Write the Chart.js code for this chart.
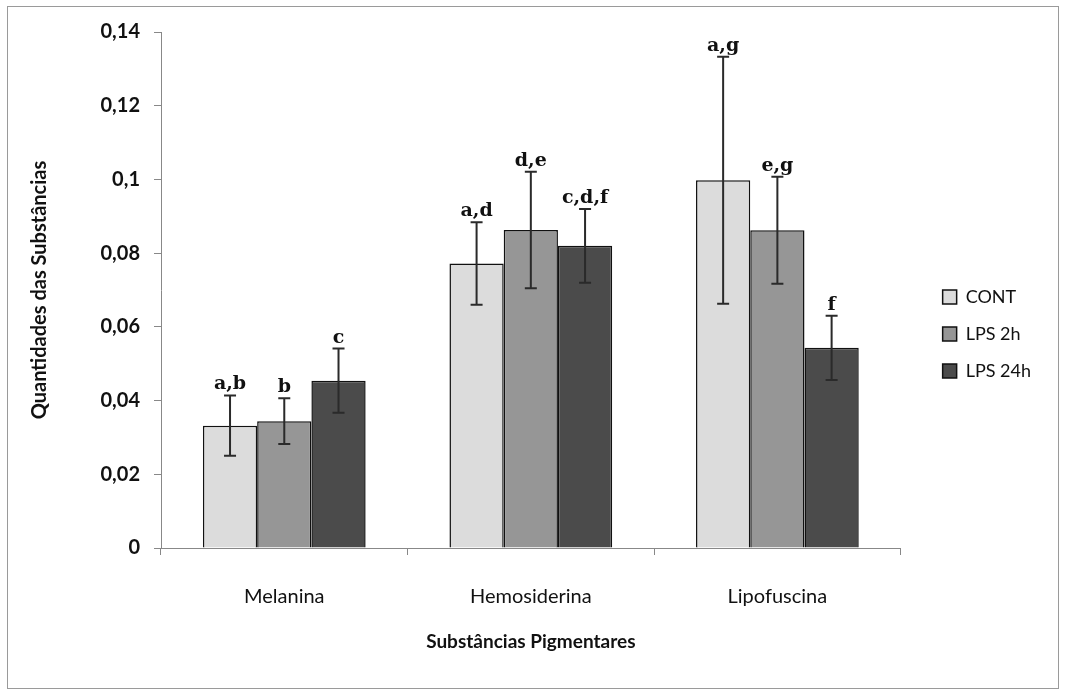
<!DOCTYPE html>
<html>
<head>
<meta charset="utf-8">
<script src="https://cdn.jsdelivr.net/npm/chart.js@4.4.1/dist/chart.umd.min.js"></script>
<style>
    html, body { margin: 0; padding: 0; background: #fff; }
    #wrap { position: relative; width: 1066px; height: 695px; }
    #frame { position: absolute; left: 7px; top: 6px; width: 1050px; height: 681px; border: 1px solid #9a9a9a; pointer-events: none; }
</style>
</head>
<body>
<div id="wrap">
    <canvas id="chart" width="1066" height="695"></canvas>
    <div id="frame"></div>
</div>
<script>
// values
const categories = ["Melanina", "Hemosiderina", "Lipofuscina"];
const seriesNames = ["CONT", "LPS 2h", "LPS 24h"];

const contValues = [0.0332, 0.0772, 0.0998];
const lps2hValues = [0.0344, 0.0863, 0.0862];
const lps24hValues = [0.0454, 0.0820, 0.0543];

const contErrors = [0.0082, 0.0112, 0.0335];
const lps2hErrors = [0.0062, 0.0158, 0.0145];
const lps24hErrors = [0.0087, 0.0100, 0.0087];

const contLetters = ["a,b", "a,d", "a,g"];
const lps2hLetters = ["b", "d,e", "e,g"];
const lps24hLetters = ["c", "c,d,f", "f"];

const yMin = 0, yMax = 0.14, yStep = 0.02;

const colors = ["#dcdcdc", "#969696", "#4b4b4b"];
const errors = [contErrors, lps2hErrors, lps24hErrors];
const letters = [contLetters, lps2hLetters, lps24hLetters];

const errorBarsPlugin = {
    id: "errorBars",
    afterDatasetsDraw(chart) {
        const ctx = chart.ctx;
        const y = chart.scales.y;
        chart.data.datasets.forEach(function (ds, i) {
            const meta = chart.getDatasetMeta(i);
            meta.data.forEach(function (bar, j) {
                const v = ds.data[j];
                const top = y.getPixelForValue(v + errors[i][j]);
                const bottom = y.getPixelForValue(v - errors[i][j]);
                ctx.save();
                ctx.strokeStyle = "#2a2a2a";
                ctx.lineWidth = 2;
                ctx.beginPath();
                ctx.moveTo(bar.x, top);
                ctx.lineTo(bar.x, bottom);
                ctx.moveTo(bar.x - 6, top);
                ctx.lineTo(bar.x + 6, top);
                ctx.moveTo(bar.x - 6, bottom);
                ctx.lineTo(bar.x + 6, bottom);
                ctx.stroke();

                ctx.fillStyle = "#111";
                ctx.font = "bold 19px 'DejaVu Serif'";
                ctx.textAlign = "center";
                ctx.textBaseline = "alphabetic";
                ctx.fillText(letters[i][j], bar.x, top - 6);
                ctx.restore();
            });
        });
    }
};

new Chart(document.getElementById("chart"), {
    type: "bar",
    data: {
        labels: categories,
        datasets: [
            { label: seriesNames[0], data: contValues, backgroundColor: colors[0] },
            { label: seriesNames[1], data: lps2hValues, backgroundColor: colors[1] },
            { label: seriesNames[2], data: lps24hValues, backgroundColor: colors[2] }
        ].map(function (ds) {
            ds.borderColor = "#111";
            ds.borderWidth = 1.5;
            ds.barPercentage = 1;
            ds.categoryPercentage = 0.66;
            return ds;
        })
    },
    options: {
        responsive: false,
        animation: false,
        layout: { padding: { left: 28, top: 32, right: 25, bottom: 59 } },
        plugins: {
            tooltip: { enabled: false },
            legend: {
                position: "right",
                align: "center",
                labels: {
                    boxWidth: 14,
                    boxHeight: 14,
                    padding: 19,
                    color: "#111",
                    font: { family: "Lato", size: 18 }
                }
            }
        },
        scales: {
            x: {
                afterFit: function (s) { s.height = 88; },
                grid: { drawOnChartArea: false, drawTicks: true, tickLength: 7, color: "#888", offset: true },
                border: { display: true, color: "#888", width: 1 },
                ticks: { padding: 30, color: "#111", font: { family: "Lato", size: 20 } },
                title: {
                    display: true,
                    text: "Substâncias Pigmentares",
                    color: "#111",
                    font: { family: "Lato", size: 19, weight: "bold" },
                    padding: { top: 4, bottom: -17 }
                }
            },
            y: {
                min: yMin,
                max: yMax,
                afterFit: function (s) { s.width = 133; },
                grid: { drawOnChartArea: false, drawTicks: true, tickLength: 7, color: "#888" },
                border: { display: true, color: "#888", width: 1 },
                ticks: {
                    stepSize: yStep,
                    padding: 14,
                    color: "#111",
                    font: { family: "Lato", size: 20, weight: "bold" },
                    callback: function (v) { return String(parseFloat(v.toFixed(2))).replace(".", ","); }
                },
                title: {
                    display: true,
                    text: "Quantidades das Substâncias",
                    color: "#111",
                    font: { family: "Lato", size: 20, weight: "bold" },
                    padding: { top: 0, bottom: 0 }
                }
            },
            // empty spacer between the plot and the legend
            spacer: {
                position: "right",
                display: true,
                afterFit: function (s) { s.width = 23; },
                grid: { display: false },
                border: { display: false },
                ticks: { display: false }
            }
        }
    },
    plugins: [errorBarsPlugin]
});
</script>
</body>
</html>
